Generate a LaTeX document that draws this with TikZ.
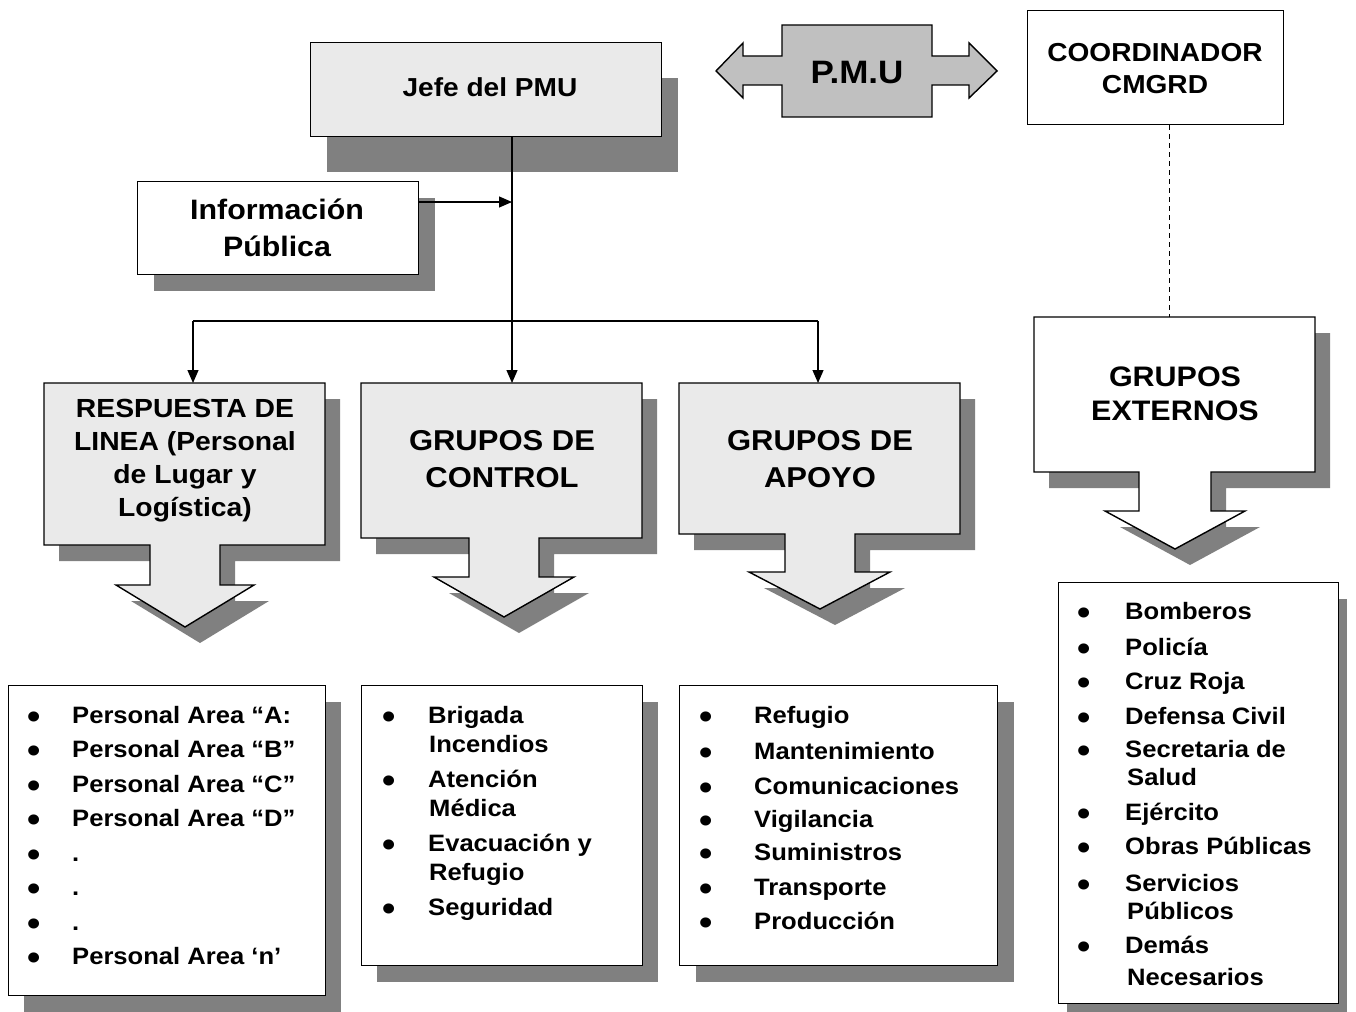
\documentclass[tikz,border=0pt]{standalone}
\usepackage{fontspec}
\setmainfont{Liberation Sans}[FakeStretch=1.08]
\usetikzlibrary{arrows.meta,shadows}
\definecolor{lightg}{HTML}{EAEAEA}
\definecolor{shad}{HTML}{808080}
\definecolor{pmug}{HTML}{C0C0C0}
\newcommand{\fs}[2]{\fontsize{#1pt}{#2pt}\selectfont\bfseries}
\tikzset{
  bx/.style={draw=black, line width=1.4pt, inner sep=0pt, anchor=north west},
  dsh/.style={drop shadow={shadow xshift=#1, shadow yshift=-16pt, fill=shad, opacity=1}},
  dsh/.default=16pt,
  outl/.style={draw=black, line width=1.4pt, line join=miter},
  conn/.style={draw=black, line width=1.2pt},
  arr/.style={conn, -{Triangle[length=13pt,width=11pt]}},
  hd/.style={align=center, inner sep=0pt},
  li/.style={anchor=base west, inner sep=0pt, font=\fs{23.7}{28}},
  bu/.style={anchor=base, inner sep=0pt, font=\fs{35}{40}},
}
\begin{document}
\begin{tikzpicture}[x=1pt,y=-1pt]
\useasboundingbox (0,0) rectangle (1356,1011);
\fill[white] (0,0) rectangle (1356,1011);

% ---------- top row ----------
\node[bx, fill=lightg, minimum width=351pt, minimum height=94pt,
      drop shadow={shadow xshift=16pt, shadow yshift=-35pt, fill=shad, opacity=1}] (jefe) at (310,42) {};
\node[anchor=base, inner sep=0pt, font=\fs{26}{30}] (jefet) at (490,96.4) {Jefe del PMU};

% PMU double arrow
\path[outl, fill=pmug] (716,71) -- (743,43) -- (743,56) -- (782,56) -- (782,25) -- (932,25)
  -- (932,56) -- (969,56) -- (969,43) -- (997,71) -- (969,98) -- (969,85) -- (932,85)
  -- (932,117) -- (782,117) -- (782,85) -- (743,85) -- (743,98) -- cycle;
\node[anchor=base, inner sep=0pt, font=\fs{32.4}{36}] (pmu) at (857,83.7) {P.M.U};

% Coordinador
\node[bx, fill=white, minimum width=256pt, minimum height=114pt] (coord) at (1027,10) {};
\node[hd, font=\fs{26}{32}] (coordt) at (1155,71) {\strut COORDINADOR\\CMGRD\strut};

% Informacion publica
\node[bx, fill=white, minimum width=281pt, minimum height=93pt, dsh] (info) at (137,181) {};
\node[hd, font=\fs{28.1}{37}] (infot) at (277,230.2) {\strut Información\\Pública\strut};

% ---------- callouts: shadows ----------
\begin{scope}[shift={(15,16)}]
\fill[shad] (44,383) -- (325,383) -- (325,545) -- (220,545) -- (220,585) -- (254,585) -- (185,627)
  -- (116,585) -- (150,585) -- (150,545) -- (44,545) -- cycle;
\fill[shad] (361,383) -- (642,383) -- (642,538) -- (539,538) -- (539,577) -- (574,577) -- (504,617)
  -- (434,577) -- (469,577) -- (469,538) -- (361,538) -- cycle;
\fill[shad] (679,383) -- (960,383) -- (960,534) -- (855,534) -- (855,572) -- (890,572) -- (820,609)
  -- (749,572) -- (785,572) -- (785,534) -- (679,534) -- cycle;
\fill[shad] (1034,317) -- (1315,317) -- (1315,472) -- (1211,472) -- (1211,511) -- (1245,511) -- (1175,549)
  -- (1105,511) -- (1139,511) -- (1139,472) -- (1034,472) -- cycle;
\end{scope}

% ---------- callouts ----------
\path[outl, fill=lightg] (44,383) -- (325,383) -- (325,545) -- (220,545) -- (220,585) -- (254,585) -- (185,627)
  -- (116,585) -- (150,585) -- (150,545) -- (44,545) -- cycle;
\path[outl, fill=lightg] (361,383) -- (642,383) -- (642,538) -- (539,538) -- (539,577) -- (574,577) -- (504,617)
  -- (434,577) -- (469,577) -- (469,538) -- (361,538) -- cycle;
\path[outl, fill=lightg] (679,383) -- (960,383) -- (960,534) -- (855,534) -- (855,572) -- (890,572) -- (820,609)
  -- (749,572) -- (785,572) -- (785,534) -- (679,534) -- cycle;
\path[outl, fill=white] (1034,317) -- (1315,317) -- (1315,472) -- (1211,472) -- (1211,511) -- (1245,511) -- (1175,549)
  -- (1105,511) -- (1139,511) -- (1139,472) -- (1034,472) -- cycle;

\node[hd, font=\fs{26.2}{33}] (resp) at (185,460.3) {\strut RESPUESTA DE\\LINEA (Personal\\de Lugar y\\Logística)\strut};
\node[hd, font=\fs{28.7}{37}] (ctrl) at (502,461.4) {\strut GRUPOS DE\\CONTROL\strut};
\node[hd, font=\fs{28.7}{37}] (apoyo) at (820,461.4) {\strut GRUPOS DE\\APOYO\strut};
\node[hd, font=\fs{28.2}{34}] (ext) at (1175,396.4) {\strut GRUPOS\\EXTERNOS\strut};

% ---------- connectors ----------
\coordinate (respin) at (193,383);
\coordinate (ctrlin) at (512,383);
\coordinate (apoyoin) at (818,383);
\coordinate (extin) at (1169,317);
\coordinate (junc) at (512,202);
\coordinate (busL) at (193,321);
\coordinate (busR) at (818,321);

\draw[arr] (jefe.south -| ctrlin) -- (ctrlin);
\draw[arr] (info.east |- junc) -- (junc);
\draw[conn] (busL) -- (busR);
\draw[arr] (busL) -- (respin);
\draw[arr] (busR) -- (apoyoin);
\draw[black, line width=1pt, dash pattern=on 5pt off 4pt] (coord.south -| extin) -- (extin);

% ---------- list boxes ----------
\node[bx, fill=white, minimum width=317pt, minimum height=310pt, dsh=15pt] (list1) at (8,685) {};
\node[bx, fill=white, minimum width=281pt, minimum height=280pt, dsh=15pt] (list2) at (361,685) {};
\node[bx, fill=white, minimum width=318pt, minimum height=280pt, dsh=16pt] (list3) at (679,685) {};
\node[bx, fill=white, minimum width=280pt, minimum height=421pt, dsh=8pt] (list4) at (1058,582) {};

% list 1
\foreach \t/\y [count=\i] in {Personal Area “A:/723, Personal Area “B”/757.5, Personal Area “C”/792,
    Personal Area “D”/826.5, ./861, ./895.5, ./930, Personal Area ‘n’/964.5}{
  \node[bu] (ba\i) at (34,\y+5) {\textbullet};
  \node[li] (ta\i) at (72,\y) {\t};
}
% list 2
\foreach \t/\y [count=\i] in {Brigada/723, Atención/787, Evacuación y/851, Seguridad/915}{
  \node[bu] (bb\i) at (389,\y+5) {\textbullet};
  \node[li] (tb\i) at (428,\y) {\t};
}
\foreach \t/\y [count=\i] in {Incendios/752, Médica/816, Refugio/880}{
  \node[li] (tbc\i) at (429,\y) {\t};
}
% list 3
\foreach \t/\y [count=\i] in {Refugio/723, Mantenimiento/759, Comunicaciones/794, Vigilancia/827,
    Suministros/860, Transporte/895, Producción/929}{
  \node[bu] (bc\i) at (706,\y+5) {\textbullet};
  \node[li] (tc\i) at (754,\y) {\t};
}
% list 4
\foreach \t/\y [count=\i] in {Bomberos/619, Policía/655, Cruz Roja/689, Defensa Civil/724,
    Secretaria de/757, Ejército/820, Obras Públicas/854, Servicios/891, Demás/953}{
  \node[bu] (bd\i) at (1084,\y+5) {\textbullet};
  \node[li] (td\i) at (1125,\y) {\t};
}
\foreach \t/\y [count=\i] in {Salud/785, Públicos/919, Necesarios/985}{
  \node[li] (tdc\i) at (1127,\y) {\t};
}
\end{tikzpicture}
\end{document}
